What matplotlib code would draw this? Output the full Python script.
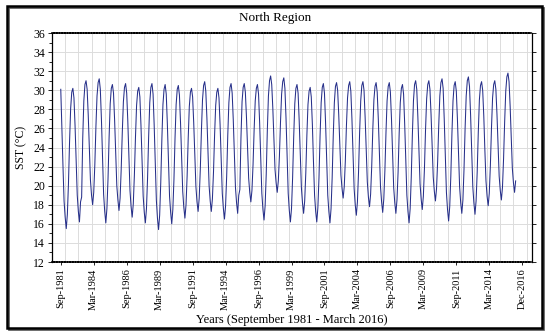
import matplotlib
matplotlib.use("Agg")
import matplotlib.pyplot as plt
from matplotlib.patches import Rectangle
from matplotlib.ticker import MultipleLocator, FixedLocator
import numpy as np

# monthly SST (deg C), North Region, Sep 1981 .. Mar 2016
sst = [
    30.1, 26.0, 22.1, 18.4,                                                  # 1981 Sep-Dec
    16.7, 15.5, 17.0, 20.2, 24.6, 28.1, 29.8, 30.2, 29.2, 26.3, 22.5, 19.0,  # 1982
    17.3, 16.2, 18.3, 18.8, 25.0, 28.9, 30.6, 31.0, 30.1, 27.4, 23.9, 20.6,  # 1983
    19.0, 18.0, 19.3, 22.2, 26.2, 29.4, 30.8, 31.2, 30.1, 27.0, 22.9, 19.1,  # 1984
    17.3, 16.1, 17.6, 20.7, 25.1, 28.6, 30.2, 30.6, 29.7, 26.9, 23.3, 20.0,  # 1985
    18.5, 17.4, 18.7, 21.7, 25.6, 28.8, 30.3, 30.7, 29.7, 26.8, 23.0, 19.5,  # 1986
    17.8, 16.7, 18.1, 21.1, 25.1, 28.4, 29.9, 30.3, 29.3, 26.3, 22.5, 18.9,  # 1987
    17.2, 16.1, 17.6, 20.8, 25.2, 28.7, 30.3, 30.7, 29.6, 26.4, 22.3, 18.5,  # 1988
    16.6, 15.4, 16.9, 20.3, 24.8, 28.5, 30.1, 30.6, 29.6, 26.5, 22.6, 18.9,  # 1989
    17.2, 16.0, 17.5, 20.6, 25.0, 28.5, 30.1, 30.5, 29.5, 26.6, 22.9, 19.4,  # 1990
    17.7, 16.6, 18.0, 21.0, 25.0, 28.3, 29.8, 30.2, 29.3, 26.6, 23.1, 19.9,  # 1991
    18.3, 17.3, 18.7, 21.7, 25.7, 29.0, 30.5, 30.9, 29.9, 27.1, 23.4, 20.0,  # 1992
    18.4, 17.3, 18.6, 21.4, 25.3, 28.4, 29.8, 30.2, 29.2, 26.4, 22.7, 19.2,  # 1993
    17.6, 16.5, 17.9, 21.0, 25.3, 28.7, 30.3, 30.7, 29.7, 26.9, 23.2, 19.8,  # 1994
    18.2, 17.1, 19.0, 19.6, 25.0, 28.8, 30.3, 30.7, 29.8, 27.2, 23.9, 20.8,  # 1995
    19.3, 18.3, 19.5, 22.2, 25.9, 28.9, 30.2, 30.6, 29.6, 26.6, 22.8, 19.2,  # 1996
    17.5, 16.4, 17.9, 21.2, 25.8, 29.4, 31.0, 31.5, 30.6, 28.1, 24.8, 21.7,  # 1997
    20.3, 19.3, 20.5, 23.1, 26.7, 29.6, 30.9, 31.3, 30.2, 27.1, 23.0, 19.2,  # 1998
    17.4, 16.2, 17.6, 20.8, 25.1, 28.6, 30.2, 30.6, 29.7, 26.8, 23.2, 19.8,  # 1999
    18.2, 17.1, 18.4, 21.3, 25.3, 28.5, 29.9, 30.3, 29.3, 26.4, 22.5, 19.0,  # 2000
    17.3, 16.2, 17.7, 20.8, 25.2, 28.7, 30.3, 30.7, 29.7, 26.6, 22.7, 19.0,  # 2001
    17.3, 16.1, 17.6, 20.8, 25.2, 28.7, 30.4, 30.8, 30.0, 27.4, 24.1, 21.1,  # 2002
    19.7, 18.7, 19.9, 22.6, 26.3, 29.2, 30.5, 30.9, 29.9, 27.0, 23.2, 19.7,  # 2003
    18.0, 16.9, 18.3, 21.4, 25.6, 28.9, 30.5, 30.9, 30.0, 27.2, 23.7, 20.4,  # 2004
    18.8, 17.8, 19.1, 22.0, 25.9, 29.0, 30.4, 30.8, 29.8, 27.0, 23.3, 19.9,  # 2005
    18.3, 17.2, 18.6, 21.6, 25.6, 28.9, 30.4, 30.8, 29.8, 27.0, 23.3, 19.8,  # 2006
    18.2, 17.1, 18.5, 21.4, 25.5, 28.7, 30.2, 30.6, 29.6, 26.5, 22.6, 19.0,  # 2007
    17.3, 16.1, 17.6, 20.9, 25.3, 28.9, 30.6, 31.0, 30.1, 27.2, 23.6, 20.2,  # 2008
    18.6, 17.5, 18.9, 21.8, 25.9, 29.1, 30.6, 31.0, 30.1, 27.5, 24.1, 20.9,  # 2009
    19.4, 18.4, 19.7, 22.5, 26.3, 29.4, 30.8, 31.2, 30.2, 27.0, 23.0, 19.3,  # 2010
    17.5, 16.3, 17.8, 21.0, 25.4, 28.9, 30.5, 30.9, 29.9, 27.0, 23.3, 19.9,  # 2011
    18.2, 17.1, 18.5, 21.7, 26.0, 29.4, 31.0, 31.4, 30.4, 27.4, 23.5, 19.9,  # 2012
    18.2, 17.0, 18.4, 21.4, 25.6, 29.0, 30.5, 30.9, 30.0, 27.3, 23.7, 20.5,  # 2013
    18.9, 17.9, 19.2, 22.1, 26.0, 29.2, 30.6, 31.0, 30.1, 27.5, 24.1, 21.0,  # 2014
    19.5, 18.5, 19.8, 22.8, 26.7, 29.9, 31.4, 31.8, 30.9, 28.3, 24.9, 21.8,  # 2015
    20.3, 19.3, 20.5,                                                        # 2016 Jan-Mar
]

tick_labels = ["Sep-1981", "Mar-1984", "Sep-1986", "Mar-1989", "Sep-1991",
               "Mar-1994", "Sep-1996", "Mar-1999", "Sep-2001", "Mar-2004",
               "Sep-2006", "Mar-2009", "Sep-2011", "Mar-2014", "Dec-2016"]
tick_step = 30  # months between labels

serif = "Liberation Serif"
months = np.arange(len(sst))

fig = plt.figure(figsize=(5.5, 3.33), dpi=100)
ax = fig.add_axes([0.0945, 0.2132, 0.873, 0.6877])

ax.plot(months, sst, color="#27308a", lw=0.75)

ax.set_xlim(-8, 429)
ax.set_ylim(12, 36)
ax.set_xticks(np.arange(len(tick_labels)) * tick_step)
ax.set_xticklabels(tick_labels, rotation=90, fontsize=7.5, family=serif)
ax.xaxis.set_minor_locator(FixedLocator(np.arange(4, 430, 12)))
ax.yaxis.set_major_locator(MultipleLocator(2))
ax.yaxis.set_minor_locator(MultipleLocator(1))
for lab in ax.get_yticklabels():
    lab.set_family(serif)
    lab.set_fontsize(8.5)

ax.grid(True, which="minor", axis="x", color="#dcdcdc", lw=0.7)
ax.grid(True, which="major", axis="y", color="#dcdcdc", lw=0.7)
ax.set_axisbelow(True)
ax.tick_params(axis="both", which="both", direction="out", length=2.5, width=0.6, pad=2)
ax.tick_params(axis="y", which="major", right=True, length=3)
ax.tick_params(axis="x", which="minor", length=0)
for side in ["left", "right"]:
    ax.spines[side].set_linewidth(0.9)
for side in ["top", "bottom"]:
    ax.spines[side].set_linewidth(1.2)
    ax.spines[side].set_linestyle((0, (1, 0.6)))

ax.set_ylabel("SST (°C)", family=serif, fontsize=8.5, labelpad=4)
ax.set_xlabel("Years (September 1981 - March 2016)", family=serif, fontsize=9, labelpad=3)
fig.text(0.5, 0.945, "North Region", ha="center", va="center", family=serif, fontsize=9.5)

# outer frame with shadow
fig.patches.append(Rectangle((0.013, 0.016), 0.972, 0.967, transform=fig.transFigure,
                             fill=False, ec="black", lw=1.8))
fig.patches.append(Rectangle((0.017, 0.010), 0.972, 0.967, transform=fig.transFigure,
                             fill=False, ec="#555555", lw=1.2, zorder=-1))

fig.savefig("out.png", dpi=100)
